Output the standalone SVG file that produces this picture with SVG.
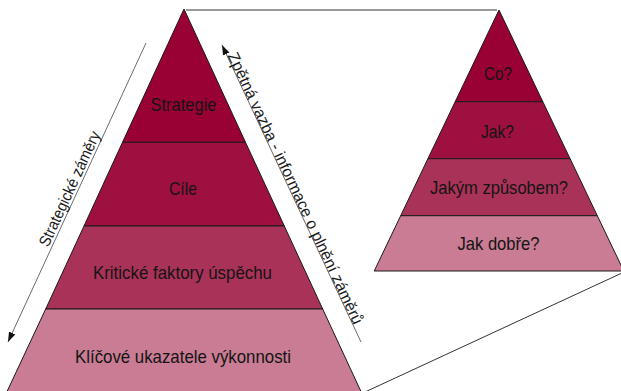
<svg xmlns="http://www.w3.org/2000/svg" width="621" height="391" viewBox="0 0 621 391">
  <style>
    .band { stroke: #1a1a1a; stroke-width: 1; stroke-linejoin: miter; }
    .c1 { fill: #990033; }
    .c2 { fill: #9e103f; }
    .c3 { fill: #a93258; }
    .c4 { fill: #c97c93; }
    .lbl { font-family: "Liberation Sans", Arial, sans-serif; font-size: 19px; fill: #141414; text-anchor: middle; }
    .side { font-family: "Liberation Sans", Arial, sans-serif; font-size: 16px; fill: #1a1a1a; text-anchor: middle; }
    .conn { stroke: #333333; stroke-width: 1; fill: none; }
    .arr { stroke: #444444; stroke-width: 0.8; fill: none; marker-end: url(#ah); }
  </style>
  <defs>
    <marker id="ah" markerUnits="userSpaceOnUse" markerWidth="11" markerHeight="8" refX="10" refY="3.5" orient="auto">
      <path d="M0,0 L10,3.5 L0,7 z" fill="#111111"/>
    </marker>
  </defs>
  <rect width="621" height="391" fill="#ffffff"/>

  <g id="connectors">
    <line class="conn" x1="186" y1="10" x2="497" y2="10"/>
    <line class="conn" x1="365" y1="392" x2="622" y2="273"/>
    <line class="arr" x1="146" y1="43" x2="8" y2="342"/>
    <line class="arr" x1="361" y1="342" x2="222" y2="45"/>
    <text class="side" transform="translate(74.5,191) rotate(-65.2)" textLength="125" lengthAdjust="spacingAndGlyphs">Strategické záměry</text>
    <text class="side" transform="translate(290.5,190.5) rotate(64.9)" textLength="298" lengthAdjust="spacingAndGlyphs">Zpětná vazba - informace o plnění záměrů</text>
  </g>

  <g id="left-strategie">
    <polygon class="band c1" points="184,9 245.5,142.3 122.5,142.3"/>
    <text class="lbl" x="183.5" y="111" textLength="66" lengthAdjust="spacingAndGlyphs">Strategie</text>
  </g>
  <g id="left-cile">
    <polygon class="band c2" points="122.5,142.3 245.5,142.3 284.3,226 84,226"/>
    <text class="lbl" x="183" y="195" textLength="28" lengthAdjust="spacingAndGlyphs">Cíle</text>
  </g>
  <g id="left-kfu">
    <polygon class="band c3" points="84,226 284.3,226 322.7,309 45.7,309"/>
    <text class="lbl" x="182.5" y="279" textLength="179" lengthAdjust="spacingAndGlyphs">Kritické faktory úspěchu</text>
  </g>
  <g id="left-kpi">
    <polygon class="band c4" points="45.7,309 322.7,309 364,398 4,398"/>
    <text class="lbl" x="183" y="363" textLength="216" lengthAdjust="spacingAndGlyphs">Klíčové ukazatele výkonnosti</text>
  </g>

  <g id="right-co">
    <polygon class="band c1" points="499,10 542.8,101.7 455.2,101.7"/>
    <text class="lbl" x="498" y="80" textLength="28" lengthAdjust="spacingAndGlyphs">Co?</text>
  </g>
  <g id="right-jak">
    <polygon class="band c2" points="455.2,101.7 542.8,101.7 570.1,158.7 427.9,158.7"/>
    <text class="lbl" x="497.5" y="138" textLength="33" lengthAdjust="spacingAndGlyphs">Jak?</text>
  </g>
  <g id="right-zpusob">
    <polygon class="band c3" points="427.9,158.7 570.1,158.7 597.3,215.7 400.7,215.7"/>
    <text class="lbl" x="499" y="193.5" textLength="138" lengthAdjust="spacingAndGlyphs">Jakým způsobem?</text>
  </g>
  <g id="right-dobre">
    <polygon class="band c4" points="400.7,215.7 597.3,215.7 623.8,271 374.2,271"/>
    <text class="lbl" x="498.5" y="250" textLength="82" lengthAdjust="spacingAndGlyphs">Jak dobře?</text>
  </g>
</svg>
